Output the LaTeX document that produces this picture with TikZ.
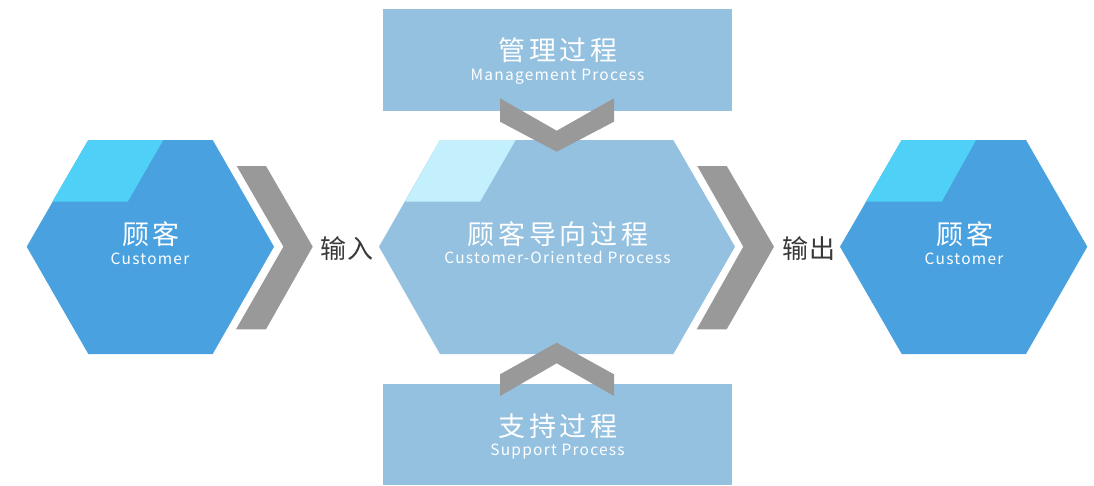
\documentclass[tikz,border=0pt]{standalone}
\usepackage{fontspec}
\setmainfont{Noto Sans CJK SC}
\newfontfamily\cjkfont[LetterSpace=14]{Noto Sans CJK SC}
\newfontfamily\latfont[LetterSpace=8]{Noto Sans CJK SC}
\newfontfamily\darkfont[LetterSpace=5]{Noto Sans CJK SC}
\definecolor{hexblue}{HTML}{4AA1DF}
\definecolor{hexcyan}{HTML}{4FD0F7}
\definecolor{procblue}{HTML}{94C1E0}
\definecolor{proclight}{HTML}{C3F0FC}
\definecolor{chevgray}{HTML}{999999}
\definecolor{darktext}{HTML}{383838}
\tikzset{
  custhex/.style={fill=hexblue, draw=none},
  custtab/.style={fill=hexcyan, draw=none},
  prochex/.style={fill=procblue, draw=none},
  proctab/.style={fill=proclight, draw=none},
  procbox/.style={fill=procblue, draw=none},
  chev/.style={fill=chevgray, draw=none},
  cjklabel/.style={font=\cjkfont\fontsize{27}{27}\selectfont, text=white, anchor=base, inner sep=0pt},
  latlabel/.style={font=\latfont\fontsize{15.5}{15.5}\selectfont, text=white, anchor=base, inner sep=0pt},
  flowlabel/.style={font=\darkfont\fontsize{26}{26}\selectfont, text=darktext, anchor=base, inner sep=0pt}
}
\begin{document}
\begin{tikzpicture}[x=1pt,y=-1pt]
\useasboundingbox (0,0) rectangle (1094,485);
% top and bottom boxes
\fill[procbox] (382.7,9) rectangle (731.7,110.7);
\fill[procbox] (382.7,384) rectangle (731.7,485);
% left customer hexagon
\fill[custhex] (88.3,140) -- (212.7,140) -- (274,246.7) -- (212.7,354) -- (88.3,354) -- (26.7,246.7) -- cycle;
\fill[custtab] (88.3,140) -- (163.3,140) -- (127.7,201.7) -- (52.3,201.7) -- cycle;
% middle hexagon
\fill[prochex] (440,140) -- (673.3,140) -- (735,246.7) -- (673.3,354) -- (440,354) -- (379,246.7) -- cycle;
\fill[proctab] (440,140) -- (515.7,140) -- (480,201.7) -- (405,201.7) -- cycle;
% right customer hexagon
\fill[custhex] (901.7,140) -- (1026,140) -- (1087.3,246.7) -- (1026,354) -- (901.7,354) -- (840,246.7) -- cycle;
\fill[custtab] (901.7,140) -- (976,140) -- (941.7,201.7) -- (866,201.7) -- cycle;
% chevrons
\fill[chev] (236.7,166) -- (266,166) -- (312.7,246.7) -- (266,329.3) -- (236,329.3) -- (283.4,246.7) -- cycle;
\fill[chev] (697.3,166) -- (726.7,166) -- (774,246.7) -- (726.7,329.3) -- (696.7,329.3) -- (743.3,246.7) -- cycle;
\fill[chev] (500,98.3) -- (556.7,130.7) -- (614,98.3) -- (614,121.7) -- (556.7,151.7) -- (500,121.7) -- cycle;
\fill[chev] (500,374.3) -- (556.7,342.7) -- (614,374.3) -- (614,396) -- (556.7,363.3) -- (500,396) -- cycle;
% texts
\node[cjklabel] (mgmt) at (558,60.5) {管理过程};
\node[latlabel] (mgmten) at (557.5,80) {Management Process};
\node[cjklabel] (left) at (151,244.5) {顾客};
\node[latlabel] (leften) at (150,264.3) {Customer};
\node[cjklabel] (mid) at (558,244.5) {顾客导向过程};
\node[latlabel] (miden) at (557.5,263.5) {Customer-Oriented Process};
\node[cjklabel] (right) at (965,244.5) {顾客};
\node[latlabel] (righten) at (964,264.3) {Customer};
\node[cjklabel] (supp) at (558,436.5) {支持过程};
\node[latlabel] (suppen) at (557.5,455) {Support Process};
\node[flowlabel] (input) at (347,258) {输入};
\node[flowlabel] (output) at (809,258) {输出};
\end{tikzpicture}
\end{document}
